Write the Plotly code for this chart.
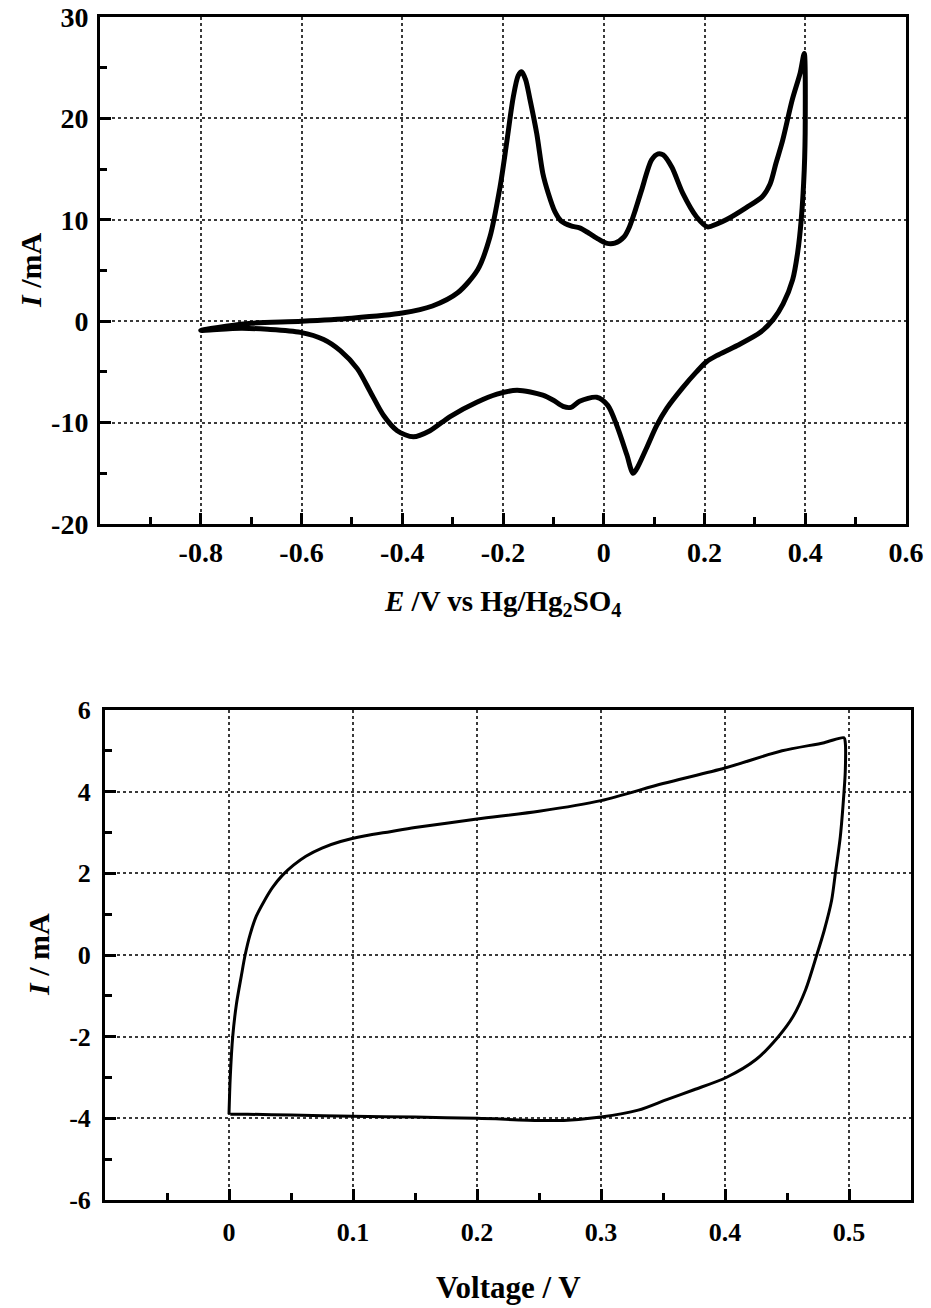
import plotly.graph_objects as go

# ---------------- Data: top panel (cyclic voltammogram) ----------------
E_forward = [-0.80, -0.75, -0.70, -0.60, -0.50, -0.40, -0.34, -0.29, -0.25, -0.226,
             -0.206, -0.193, -0.180, -0.170, -0.163, -0.155, -0.147, -0.133, -0.121,
             -0.110, -0.097, -0.085, -0.065, -0.048, -0.030, -0.014, 0.005, 0.022, 0.040,
             0.051, 0.063, 0.075, 0.095, 0.108, 0.118, 0.135, 0.157, 0.184, 0.206,
             0.225, 0.243, 0.283, 0.315, 0.330, 0.342, 0.355, 0.374, 0.390, 0.398]
I_forward = [-0.9, -0.5, -0.2, 0.0, 0.3, 0.8, 1.5, 2.8, 5.1, 8.3,
             13.2, 17.5, 22.0, 24.2, 24.6, 23.8, 22.0, 18.5, 14.6,
             12.6, 10.8, 9.9, 9.4, 9.2, 8.7, 8.2, 7.7, 7.7, 8.3,
             9.3, 11.0, 12.9, 15.9, 16.5, 16.4, 15.2, 12.6, 10.3, 9.3,
             9.6, 10.0, 11.2, 12.3, 13.5, 15.6, 17.8, 21.8, 24.5, 26.4]

E_reverse = [0.400, 0.398, 0.392, 0.385, 0.375, 0.356, 0.337, 0.311, 0.265, 0.224,
             0.204, 0.184, 0.156, 0.125, 0.105, 0.085, 0.065, 0.058, 0.046, 0.026,
             0.008, -0.014, -0.048, -0.065, -0.081, -0.100, -0.121, -0.172, -0.212,
             -0.252, -0.305, -0.345, -0.378, -0.410, -0.437, -0.463, -0.489, -0.523,
             -0.556, -0.602, -0.667, -0.720, -0.800]
I_reverse = [19.8, 14.9, 10.0, 6.8, 4.1, 1.7, 0.2, -1.1, -2.4, -3.4,
             -4.0, -5.0, -6.6, -8.6, -10.3, -12.5, -14.6, -15.0, -13.2, -10.3,
             -8.3, -7.5, -7.9, -8.5, -8.4, -7.8, -7.3, -6.8, -7.2,
             -8.0, -9.4, -10.8, -11.4, -10.8, -9.3, -7.0, -4.7, -2.9,
             -1.8, -1.1, -0.8, -0.7, -0.9]

top_x_ticks = [-0.8, -0.6, -0.4, -0.2, 0.0, 0.2, 0.4, 0.6]
top_x_labels = ["-0.8", "-0.6", "-0.4", "-0.2", "0", "0.2", "0.4", "0.6"]
top_x_minor = [-0.9, -0.7, -0.5, -0.3, -0.1, 0.1, 0.3, 0.5]
top_y_ticks = [-20, -10, 0, 10, 20, 30]
top_y_labels = ["-20", "-10", "0", "10", "20", "30"]
top_y_minor = [-15, -5, 5, 15, 25]

# ---------------- Data: bottom panel ----------------
V_forward = [0.000, 0.001, 0.003, 0.006, 0.010, 0.013, 0.017, 0.022, 0.028, 0.035,
             0.043, 0.052, 0.062, 0.075, 0.090, 0.110, 0.130, 0.150, 0.200, 0.250,
             0.300, 0.350, 0.400, 0.446, 0.480, 0.496]
Ib_forward = [-3.9, -3.0, -2.0, -1.2, -0.5, 0.0, 0.5, 0.95, 1.3, 1.65,
              1.95, 2.2, 2.42, 2.62, 2.78, 2.92, 3.02, 3.12, 3.33, 3.52,
              3.78, 4.2, 4.58, 5.0, 5.2, 5.32]
V_reverse = [0.497, 0.497, 0.496, 0.493, 0.489, 0.486, 0.480, 0.474, 0.465, 0.455,
             0.443, 0.425, 0.401, 0.375, 0.353, 0.330, 0.300, 0.270, 0.250, 0.200,
             0.150, 0.100, 0.050, 0.015, 0.001]
Ib_reverse = [5.2, 4.5, 4.0, 2.9, 2.0, 1.34, 0.6, 0.0, -0.85, -1.5,
              -2.0, -2.56, -3.0, -3.3, -3.54, -3.8, -3.97, -4.05, -4.05, -4.0,
              -3.97, -3.95, -3.92, -3.9, -3.9]

bot_x_ticks = [0.0, 0.1, 0.2, 0.3, 0.4, 0.5]
bot_x_labels = ["0", "0.1", "0.2", "0.3", "0.4", "0.5"]
bot_x_minor = [-0.05, 0.05, 0.15, 0.25, 0.35, 0.45]
bot_y_ticks = [-6, -4, -2, 0, 2, 4, 6]
bot_y_labels = ["-6", "-4", "-2", "0", "2", "4", "6"]
bot_y_minor = [-5, -3, -1, 1, 3, 5]

# ---------------- Figure ----------------
W, H = 931, 1308
FONT = "Liberation Serif, Times New Roman, serif"

def px_x(p):
    return p / W

def px_y(p):
    return 1 - p / H

fig = go.Figure()
fig.add_trace(go.Scatter(x=E_forward + E_reverse, y=I_forward + I_reverse,
                         mode="lines", line=dict(color="black", width=5, shape="spline", smoothing=0.8),
                         xaxis="x", yaxis="y", showlegend=False))
fig.add_trace(go.Scatter(x=V_forward + V_reverse, y=Ib_forward + Ib_reverse,
                         mode="lines", line=dict(color="black", width=3, shape="spline", smoothing=0.8),
                         xaxis="x2", yaxis="y2", showlegend=False))

def axis_common(tickvals, ticktext, minorvals, size):
    return dict(
        tickmode="array", tickvals=tickvals, ticktext=ticktext,
        ticks="inside", ticklen=11, tickwidth=3, tickcolor="black",
        showline=True, linecolor="black", linewidth=3, mirror=True,
        showgrid=True, gridcolor="#3a3a3a", gridwidth=2, griddash="dot",
        zeroline=False, automargin=False,
        tickfont=dict(family=FONT, size=size, color="black", weight="bold"),
        minor=dict(tickmode="array", tickvals=minorvals, ticks="inside",
                   ticklen=7, tickwidth=3, tickcolor="black", showgrid=False),
        fixedrange=True,
    )

fig.update_layout(
    width=W, height=H, margin=dict(l=0, r=0, t=0, b=0, autoexpand=False),
    paper_bgcolor="white", plot_bgcolor="white",
    xaxis=dict(domain=[px_x(100), px_x(906)], range=[-1.0, 0.6], anchor="y",
               ticklabelstandoff=1,
               **axis_common(top_x_ticks, top_x_labels, top_x_minor, 28)),
    yaxis=dict(domain=[px_y(524), px_y(17)], range=[-20, 30], anchor="x",
               ticklabelstandoff=3,
               **axis_common(top_y_ticks, top_y_labels, top_y_minor, 28)),
    xaxis2=dict(domain=[px_x(105), px_x(911)], range=[-0.1, 0.55], anchor="y2",
                ticklabelstandoff=7,
                **axis_common(bot_x_ticks, bot_x_labels, bot_x_minor, 26)),
    yaxis2=dict(domain=[px_y(1200), px_y(710)], range=[-6, 6], anchor="x2",
                ticklabelstandoff=6,
                **axis_common(bot_y_ticks, bot_y_labels, bot_y_minor, 26)),
    annotations=[
        dict(text="<i>E</i> /V vs Hg/Hg<sub>2</sub>SO<sub>4</sub>", x=px_x(503), y=px_y(603),
             xref="paper", yref="paper", xanchor="center", yanchor="middle", showarrow=False,
             font=dict(family=FONT, size=29, color="black", weight="bold")),
        dict(text="<i>I</i> /mA", x=px_x(30), y=px_y(270), textangle=-90,
             xref="paper", yref="paper", xanchor="center", yanchor="middle", showarrow=False,
             font=dict(family=FONT, size=30, color="black", weight="bold")),
        dict(text="Voltage / V", x=px_x(508), y=px_y(1287),
             xref="paper", yref="paper", xanchor="center", yanchor="middle", showarrow=False,
             font=dict(family=FONT, size=31, color="black", weight="bold")),
        dict(text="<i>I</i> / mA", x=px_x(38), y=px_y(955), textangle=-90,
             xref="paper", yref="paper", xanchor="center", yanchor="middle", showarrow=False,
             font=dict(family=FONT, size=30, color="black", weight="bold")),
    ],
)

fig.write_html("out.html")
